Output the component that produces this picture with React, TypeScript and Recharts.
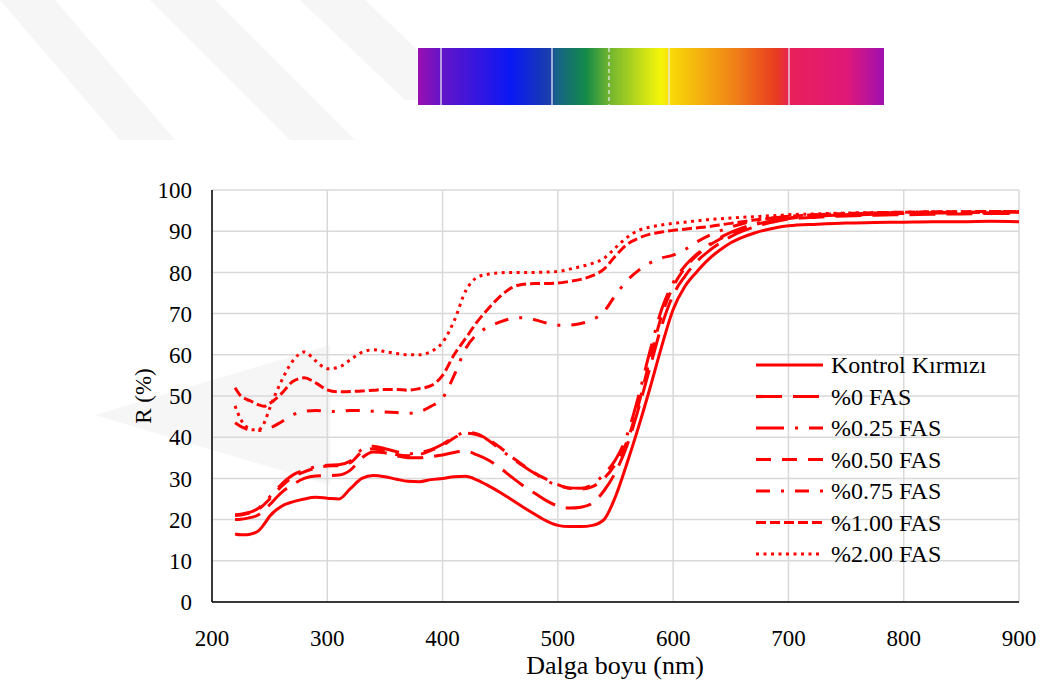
import React from 'react';
import { LineChart, Line, XAxis, YAxis, CartesianGrid } from 'recharts';

const WAVELENGTH = [220, 225, 230, 235, 240, 245, 250, 260, 270, 280, 290, 300, 310, 320, 330, 340, 350, 360, 370, 380, 390, 400, 410, 420, 430, 440, 450, 460, 470, 480, 490, 500, 510, 520, 530, 540, 550, 560, 570, 580, 590, 600, 610, 620, 630, 640, 650, 660, 670, 680, 690, 700, 725, 750, 775, 800, 825, 850, 875, 900];

const KONTROL = [16.5, 16.3, 16.3, 16.6, 17.2, 18.8, 20.8, 23.2, 24.3, 25, 25.4, 25.2, 25, 27.5, 30, 30.7, 30.4, 29.8, 29.3, 29.2, 29.7, 30, 30.4, 30.5, 29.6, 28.2, 26.6, 24.8, 23, 21.3, 19.7, 18.6, 18.3, 18.3, 18.6, 20, 25.6, 33.7, 42.5, 52, 62, 71, 76.5, 80, 83, 85.3, 87.2, 88.5, 89.5, 90.3, 90.9, 91.3, 91.7, 92, 92.1, 92.2, 92.3, 92.3, 92.4, 92.3];
const FAS_0 = [20, 20.1, 20.3, 20.6, 21.1, 22.2, 23.6, 26.5, 28.5, 30, 30.6, 30.7, 30.8, 32, 35, 36.4, 36.2, 35.5, 35, 35, 35.3, 35.7, 36.3, 36.6, 35.7, 34.4, 32.5, 30.3, 28.2, 26.4, 24.6, 23.3, 22.8, 23, 24, 27, 31.5, 38, 47, 57, 67, 74.5, 79, 82.5, 85, 87, 88.7, 90, 91, 91.8, 92.4, 92.9, 93.4, 93.7, 93.9, 94, 94.1, 94.2, 94.3, 94.3];
const FAS_025 = [21.2, 21.3, 21.6, 22, 22.7, 24, 25.5, 28.5, 30.8, 32, 32.8, 33.2, 33.3, 34.2, 37, 37.8, 37.2, 36.5, 36, 36.3, 37, 38.3, 40, 41.2, 40.8, 39.2, 37, 35, 33, 31.2, 29.5, 28.3, 27.7, 27.6, 28.5, 31, 34.5, 40.5, 50, 61, 71, 77.5, 81.5, 84.3, 86.5, 88.3, 89.7, 90.8, 91.7, 92.3, 92.8, 93.2, 93.7, 94, 94.2, 94.3, 94.4, 94.5, 94.5, 94.5];
const FAS_050 = [21, 21.1, 21.4, 21.8, 22.4, 23.6, 25, 28, 30.3, 31.6, 32.5, 33, 33.1, 33.8, 36.4, 37.2, 36.6, 35.8, 35.5, 35.8, 36.8, 38, 39.8, 41, 40.6, 39.4, 37.5, 35.2, 33.2, 31.3, 29.8, 28.5, 27.6, 27.4, 28, 30, 33.5, 39, 48, 59, 69.5, 76.5, 81, 84, 86.3, 88, 89.5, 90.6, 91.5, 92.2, 92.7, 93.1, 93.6, 93.9, 94.1, 94.3, 94.5, 94.6, 94.6, 94.7];
const FAS_075 = [43.5, 42.6, 42, 41.7, 41.6, 41.8, 42.2, 43.7, 45.4, 46.3, 46.5, 46.3, 46.2, 46.5, 46.5, 46.3, 46.1, 46, 45.8, 46.2, 47.5, 49.5, 55, 61.5, 65, 66.8, 68, 68.8, 69, 68.5, 67.7, 67.2, 67.2, 67.6, 68.5, 70.5, 74.5, 78, 80.5, 82.3, 83.5, 84.2, 85.5, 87.3, 88.8, 90, 91, 91.8, 92.5, 93, 93.3, 93.6, 94, 94.2, 94.4, 94.5, 94.5, 94.6, 94.6, 94.6];
const FAS_100 = [52, 50, 49.2, 48.6, 47.9, 47.5, 48.2, 50.5, 53.5, 54.4, 53.2, 51.5, 51, 51.1, 51.2, 51.4, 51.6, 51.6, 51.4, 51.8, 52.5, 55, 60, 64, 68, 71.3, 74.2, 76.3, 77.1, 77.3, 77.3, 77.4, 77.8, 78.3, 79.2, 80.8, 84, 86.8, 88.3, 89.3, 89.8, 90.2, 90.5, 90.8, 91.1, 91.5, 91.9, 92.3, 92.7, 93, 93.3, 93.6, 94, 94.3, 94.5, 94.6, 94.7, 94.7, 94.8, 94.8];
const FAS_200 = [47.6, 44.3, 42.5, 41.8, 41.8, 43.3, 47, 53.5, 58.5, 60.7, 58.5, 56.6, 57, 58.8, 60.6, 61.2, 60.8, 60.3, 60, 60, 60.8, 63, 68.2, 75.5, 78.8, 79.6, 79.9, 80, 80, 80, 80.1, 80.2, 80.8, 81.4, 82.2, 83.4, 86, 88.5, 90.2, 91, 91.5, 91.9, 92.2, 92.5, 92.8, 93, 93.2, 93.4, 93.5, 93.7, 93.8, 94, 94.2, 94.4, 94.5, 94.6, 94.7, 94.7, 94.8, 94.8];

const SERIES_NAMES = ['Kontrol Kırmızı', '%0 FAS', '%0.25 FAS', '%0.50 FAS', '%0.75 FAS', '%1.00 FAS', '%2.00 FAS'];
const SERIES_KEYS = ['kontrol', 'f0', 'f025', 'f050', 'f075', 'f100', 'f200'];
const SERIES_VALUES = [KONTROL, FAS_0, FAS_025, FAS_050, FAS_075, FAS_100, FAS_200];
const SERIES_DASH = [undefined, '26 11', '28 11 3 11', '15 11', '14 11 3 11', '10 4', '3 4.5'];

const X_TICKS = [200, 300, 400, 500, 600, 700, 800, 900];
const Y_TICKS = [0, 10, 20, 30, 40, 50, 60, 70, 80, 90, 100];

const data = WAVELENGTH.map((nm, i) => {
  const row: Record<string, number> = { nm };
  SERIES_KEYS.forEach((k, j) => {
    row[k] = SERIES_VALUES[j][i];
  });
  return row;
});

const FONT = "'Liberation Serif', 'DejaVu Serif', serif";
const RED = '#ff0000';
const TEXT_STYLE: React.CSSProperties = { fontFamily: FONT };

function Background() {
  return (
    <svg width={1040} height={685} style={{ position: 'absolute', left: 0, top: 0 }}>
      <g fill="#f6f6f6">
        <polygon points="0,0 55,0 175,140 120,140" />
        <polygon points="150,0 215,0 355,140 290,140" />
        <polygon points="300,0 365,0 470,100 405,100" />
        <polygon points="95,415 330,345 330,485" />
      </g>
      <defs>
        <linearGradient id="spec" x1="0" x2="1" y1="0" y2="0">
          <stop offset="0" stopColor="#9a0fb0" />
          <stop offset="0.05" stopColor="#6414c8" />
          <stop offset="0.2" stopColor="#0a18f5" />
          <stop offset="0.285" stopColor="#1a40a8" />
          <stop offset="0.295" stopColor="#16608a" />
          <stop offset="0.36" stopColor="#138a48" />
          <stop offset="0.41" stopColor="#70b530" />
          <stop offset="0.52" stopColor="#f5f50a" />
          <stop offset="0.545" stopColor="#f8d808" />
          <stop offset="0.68" stopColor="#f08018" />
          <stop offset="0.77" stopColor="#e83a20" />
          <stop offset="0.8" stopColor="#e8205a" />
          <stop offset="0.92" stopColor="#e01878" />
          <stop offset="1" stopColor="#a010b0" />
        </linearGradient>
      </defs>
      <rect x={418} y={48} width={466} height={57} fill="url(#spec)" />
      <g stroke="#e8e8f0" strokeWidth={1.5} opacity={0.85}>
        <line x1={441} y1={48} x2={441} y2={105} />
        <line x1={552} y1={48} x2={552} y2={105} />
        <line x1={669} y1={48} x2={669} y2={105} />
        <line x1={789} y1={48} x2={789} y2={105} />
        <line x1={609} y1={48} x2={609} y2={105} strokeDasharray="4 3" />
      </g>
    </svg>
  );
}

function Overlay() {
  return (
    <svg width={1040} height={685} style={{ position: 'absolute', left: 0, top: 0, pointerEvents: 'none' }}>
      <text x={143} y={396} transform="rotate(-90 143 396)" textAnchor="middle" dominantBaseline="central" style={TEXT_STYLE} fontSize={23} fill="#000">R (%)</text>
      <text x={615} y={665} textAnchor="middle" dominantBaseline="central" style={TEXT_STYLE} fontSize={26} fill="#000">Dalga boyu (nm)</text>
      {SERIES_NAMES.map((name, i) => {
        const y = 365 + i * 31.5;
        return (
          <g key={name}>
            <line x1={756} y1={y} x2={823} y2={y} stroke={RED} strokeWidth={3.2} strokeDasharray={SERIES_DASH[i]} />
            <text x={831} y={y} dominantBaseline="central" style={TEXT_STYLE} fontSize={24} fill="#000">{name}</text>
          </g>
        );
      })}
    </svg>
  );
}

export default function App() {
  return (
    <div style={{ position: 'absolute', left: 0, top: 0, width: 1040, height: 685, background: '#fff', overflow: 'hidden', fontFamily: FONT }}>
      <Background />
      <div style={{ position: 'absolute', left: 0, top: 0 }}>
        <LineChart width={1040} height={685} data={data} margin={{ top: 190, right: 21, bottom: 33, left: 142 }} style={TEXT_STYLE}>
          <CartesianGrid stroke="#d9d9d9" strokeWidth={1.5} />
          <XAxis
            type="number"
            dataKey="nm"
            domain={[200, 900]}
            ticks={X_TICKS}
            height={50}
            axisLine={{ stroke: '#000', strokeWidth: 1.5 }}
            tickLine={false}
            tickSize={6}
            tickMargin={22}
            tick={{ fontSize: 23, fill: '#000', style: TEXT_STYLE }}
            allowDataOverflow
          />
          <YAxis
            type="number"
            domain={[0, 100]}
            ticks={Y_TICKS}
            width={70}
            axisLine={{ stroke: '#000', strokeWidth: 1.5 }}
            tickLine={false}
            tickSize={6}
            tickMargin={14}
            tick={{ fontSize: 23, fill: '#000', style: TEXT_STYLE }}
            allowDataOverflow
          />
          {SERIES_KEYS.map((k, i) => (
            <Line
              key={k}
              type="monotone"
              dataKey={k}
              name={SERIES_NAMES[i]}
              stroke={RED}
              strokeWidth={3}
              strokeDasharray={SERIES_DASH[i]}
              dot={false}
              activeDot={false}
              isAnimationActive={false}
            />
          ))}
        </LineChart>
      </div>
      <Overlay />
    </div>
  );
}
